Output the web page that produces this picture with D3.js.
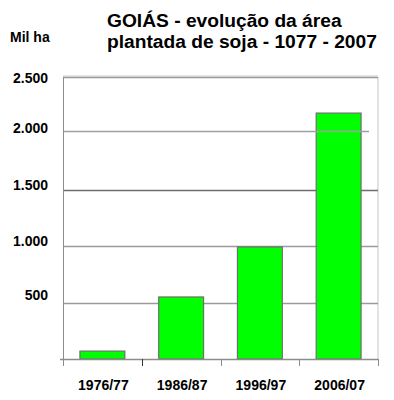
<!DOCTYPE html>
<html>
<head>
<meta charset="utf-8">
<script src="https://cdn.jsdelivr.net/npm/d3@7"></script>
<style>
  body { margin: 0; background: #fff; }
  svg { font-family: Arial, "Liberation Sans", sans-serif; }
</style>
</head>
<body>
<div class="chart"></div>
<script>
const width = 394
const height = 400

// data
const safras = ["1976/77", "1986/87", "1996/97", "2006/07"]
const area = [70, 550, 993, 2180]
const yTicks = [500, 1000, 1500, 2000, 2500]

const margin = {left: 63, right: 16, top: 77, bottom: 41}

const x = d3.scaleBand()
    .domain(safras)
    .range([margin.left, width - margin.right])
    .paddingInner(0.43)
    .paddingOuter(0.215)

const y = d3.scaleLinear()
    .domain([0, 2500])
    .range([height - margin.bottom, margin.top])

const fmt = d3.formatLocale({decimal: ",", thousands: ".", grouping: [3], currency: ["", ""]}).format(",d")

const svg = d3.select(".chart").append("svg")
    .attr("width", width)
    .attr("height", height)

// top shadow band and right border
svg.append("rect")
    .attr("x", margin.left).attr("y", margin.top - 2)
    .attr("width", width - margin.right - margin.left).attr("height", 2)
    .attr("fill", "#e6e6e6")
svg.append("line")
    .attr("x1", width - margin.right).attr("x2", width - margin.right)
    .attr("y1", margin.top).attr("y2", y(0))
    .attr("stroke", "#c8c8c8")

// gridlines (behind bars)
svg.append("g")
  .selectAll("line")
  .data(yTicks.filter(d => d !== 2000))
  .join("line")
    .attr("x1", margin.left)
    .attr("x2", width - margin.right)
    .attr("y1", d => Math.round(y(d)) + 0.5)
    .attr("y2", d => Math.round(y(d)) + 0.5)
    .attr("stroke", d => d === 1500 ? "#6e6e6e" : "#9a9a9a")
    .attr("stroke-width", 1.3)

// bars
svg.append("g")
  .selectAll("rect")
  .data(safras)
  .join("rect")
    .attr("x", d => x(d))
    .attr("y", (d, i) => y(area[i]))
    .attr("width", x.bandwidth())
    .attr("height", (d, i) => y(0) - y(area[i]))
    .attr("fill", "#00ff00")
    .attr("stroke", "#6f6f6f")
    .attr("stroke-width", 1.2)

// 2000 gridline drawn over the last bar
svg.append("line")
    .attr("x1", margin.left)
    .attr("x2", width - margin.right - 9)
    .attr("y1", Math.round(y(2000)) - 1.5)
    .attr("y2", Math.round(y(2000)) - 1.5)
    .attr("stroke", "#a0a0a0")
    .attr("stroke-width", 1.5)

// y axis line
svg.append("line")
    .attr("x1", margin.left + 0.5).attr("x2", margin.left + 0.5)
    .attr("y1", margin.top).attr("y2", y(0) + 6)
    .attr("stroke", "#8c8c8c")

// x axis with ticks at band edges
const edges = safras.map(d => x(d) - x.step() * x.paddingInner() / 2)
edges[0] = margin.left
edges.push(width - margin.right)
const xAxis = svg.append("g")
xAxis.append("line")
    .attr("x1", margin.left - 3).attr("x2", width - margin.right)
    .attr("y1", y(0) + 0.5).attr("y2", y(0) + 0.5)
    .attr("stroke", "#8c8c8c").attr("stroke-width", 1.3)
xAxis.selectAll(".tk")
  .data(edges)
  .join("line")
    .attr("x1", d => Math.round(d) + 0.5).attr("x2", d => Math.round(d) + 0.5)
    .attr("y1", y(0)).attr("y2", y(0) + 7)
    .attr("stroke", (d, i) => i === 1 ? "#333" : "#8c8c8c")
xAxis.selectAll("text")
  .data(safras)
  .join("text")
    .attr("x", d => x(d) + x.bandwidth() / 2 + 1)
    .attr("y", y(0) + 31)
    .attr("text-anchor", "middle")
    .attr("font-size", 14)
    .attr("font-weight", "bold")
    .text(d => d)

// y labels
svg.append("g")
  .selectAll("text")
  .data(yTicks)
  .join("text")
    .attr("x", 48)
    .attr("y", d => y(d) + (d === 2500 ? 6 : d === 500 ? -3 : 0))
    .attr("text-anchor", "end")
    .attr("font-size", 14)
    .attr("font-weight", "bold")
    .text(d => fmt(d))

// unit
svg.append("text")
    .attr("x", 10).attr("y", 42)
    .attr("font-size", 14).attr("font-weight", "bold")
    .text("Mil ha")

// title
const title = svg.append("text")
    .attr("font-size", 19.2).attr("font-weight", "bold")
title.append("tspan").attr("x", 107).attr("y", 27).text("GOIÁS - evolução da área")
title.append("tspan").attr("x", 107).attr("y", 48).text("plantada de soja - 1077 - 2007")
</script>
</body>
</html>
